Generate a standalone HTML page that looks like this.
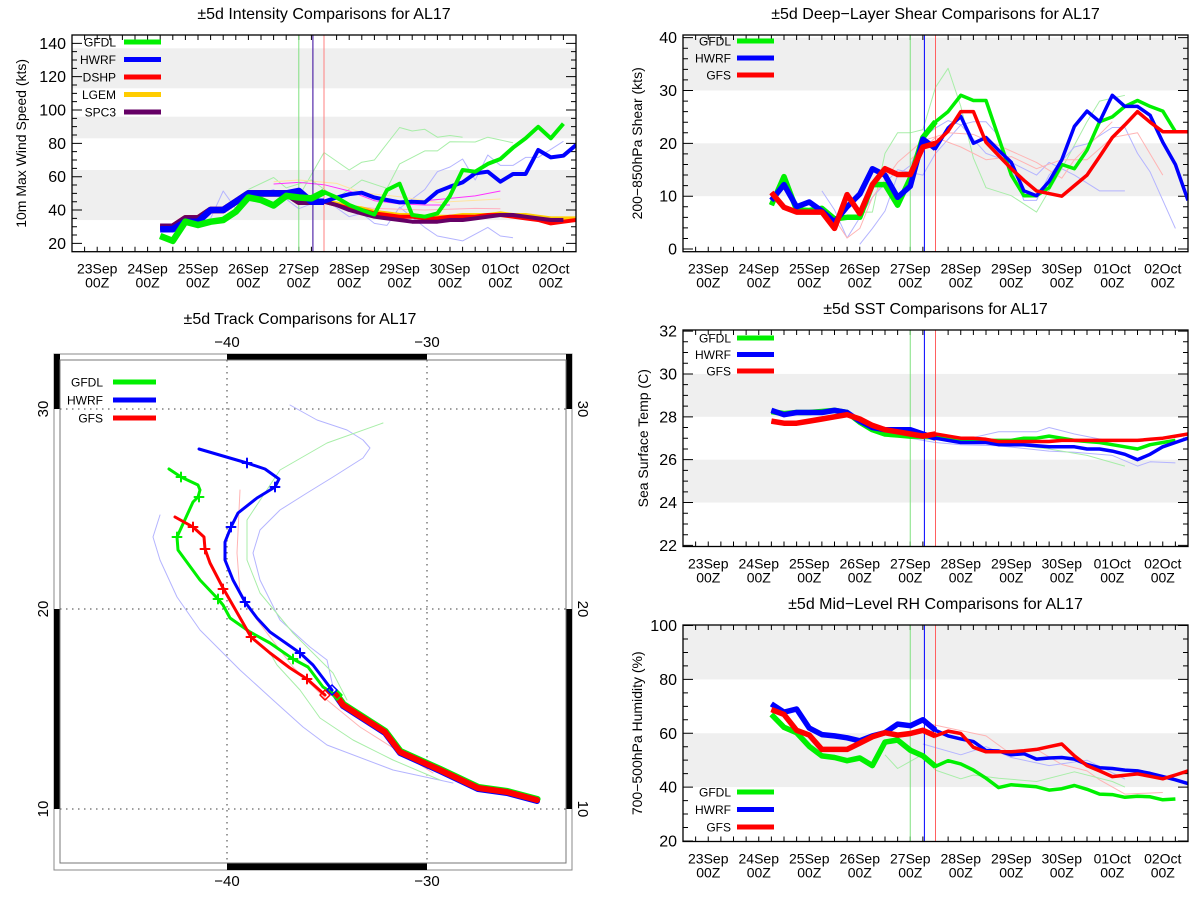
<!DOCTYPE html>
<html><head><meta charset="utf-8">
<style>
html,body{margin:0;padding:0;background:#fff;}
svg{display:block;font-family:"Liberation Sans",sans-serif;}
</style></head>
<body>
<svg id="chart" width="1200" height="900" viewBox="0 0 1200 900" xmlns="http://www.w3.org/2000/svg"></svg>
<script>
// ---------- shared time axis (days since 23Sep 00Z) ----------
const tDays = [1.25,1.5,1.75,2,2.25,2.5,2.75,3,3.25,3.5,3.75,4,4.25,4.5,4.75,5,5.25,5.5,5.75,6,6.25,6.5,6.75,7,7.25,7.5,7.75,8,8.25,8.5,8.75,9,9.25,9.5];
const dayLabels = ["23Sep","24Sep","25Sep","26Sep","27Sep","28Sep","29Sep","30Sep","01Oct","02Oct"];
const initDays = [4.0, 4.28, 4.5];

// ---------- intensity ----------
const intTicks = [20,40,60,80,100,120,140];
const intBands = [[34,64],[83,96],[113,137]];
const intGFDL = [24.4,21.5,33,31,33,34,39,47.5,46,42.7,48.5,47.5,47,50.8,47.5,43,40,37.3,52,55.8,37,36,38,48.5,64,63,67.7,70.6,77.4,83,89.9,83,91.8,null];
const intHWRF = [28.5,28.5,33,33,40,40,45,50,50,50,50,51.5,45,45,47.5,49.5,50.4,47.5,46,44.6,45,44.6,51,54,56.6,62,63,57,61.6,61.6,76,71.6,72.6,79];
const intDSHP = [30,30,35,35,40,40,45,50,50,50,50,45,45,45,43,41,40,38,37,36,36,35,35,36,36,36,37,37,36,35,34,32,33,34];
const intLGEM = [30,30,35,35,40,40,45,50,50,50,50,45,45,45,44,42,41,39,38,37,37,36,36,36,37,37,37,38,37,37,36,35,35,35];
const intSPC3 = [30,30,35,35,40,40,45,50,50,50,50,45,45,45,43,40,38,36,35,34,33,33,33,34,34,35,36,37,37,36,35,34,34,null];
const intThinGreenA_k = [11,13,15,16,17,19,20,21,22,23,24];
const intThinGreenA_v = [48,74.5,64,68.7,70,89.5,87.4,88.4,83.7,84.7,83.7];
const intThinGreenB_k = [7,9,10,12,14,16,18,19,21,22,23,25,26,28];
const intThinGreenB_v = [52.3,59.5,53.3,58,47,58,53,67.7,75.5,75.5,81,80.8,83.7,80.3];
const intThinBlueA_k = [4,5,6,7,9,11,13,15,16,17,18,19,21,22,24,26,27,28];
const intThinBlueA_v = [35,51.4,40.8,47.5,52.3,40.8,46.6,36,38,32,30.8,41.7,29.6,24.4,21.5,29.6,24.4,23.4];
const intThinBlueB_k = [19,21,22,23,24,25,26,27,28,29,30,32];
const intThinBlueB_v = [41,52.3,63,65.8,70.6,58,73,66.8,66.8,71.6,71.6,81.2];
const intThinMagA_k = [9,11,13,15,17,19,21,23];
const intThinMagA_v = [55.6,56.6,55.2,51.4,45.6,43.7,43,43];
const intThinMagB_k = [21,23,25,27];
const intThinMagB_v = [45.6,47,48.5,51.4];
const intThinOrange_k = [9,11,14,16,19,22,27];
const intThinOrange_v = [57,58,56,50.4,48,44.6,46.6];
const intThinPink_k = [13,17,21,25,27];
const intThinPink_v = [44,41,40,41,40.8];

// ---------- shear ----------
const shrTicks = [0,10,20,30,40];
const shrBands = [[10,20],[30,40]];
const shrGFDL = [8.3,13.7,7.4,7.3,7.7,5.7,6,6,12.2,12.2,8.3,13.4,21.1,24.1,26,29.1,28.1,28.1,21.1,14,10.1,10.1,11.6,16,15.2,18.7,24.1,25,27,28.1,27,26.1,22.2,null];
const shrHWRF = [9.2,12.2,8,8.9,7.2,5.1,8,10.4,15.2,14,9.8,11.9,20.8,19,22.9,25.1,20,21.1,18.7,16.4,11,10.1,12.8,16.9,23.2,26.1,24.1,29.1,27,27,25.3,20.2,16,9.2];
const shrGFS = [10.7,7.9,7,7,7,3.9,10.3,6.7,12.2,15.2,14.1,14.1,19.3,20,22.3,26,26,20.2,17.7,15.2,13,11,10.5,10,12,14,17.5,21.1,23.5,26,24,22.2,22.2,22.2];
const shrThinGreen_k = [7,8,9,10,11,12,13,14,15,16,17,19,21,23,25,26,28];
const shrThinGreen_v = [7,7,18.1,22,22,22.6,30.6,34.2,27,17.2,11.6,10.1,7,15.2,24.1,28,29.1];
const shrThinBlueA_k = [7,8,9,10,11,12,13,14,15,16,17,18,20,21,22,24,25,27,28,29,30,32];
const shrThinBlueA_v = [0.9,3.9,7.2,14,15.8,21.1,22.9,24.3,23.5,24.1,24.1,21.4,9.2,9.2,14,19.3,19.9,23,23,18.1,14.6,3.9];
const shrThinBlueB_k = [4,5,6,8,10,12,13,15,17,19,21,22,24,26,28];
const shrThinBlueB_v = [11,7.4,2.1,9.8,15,14,18.1,23.5,18.1,16.4,14,16.4,14,11,11];
const shrThinRedA_k = [5,6,7,8,10,12,14,16,18,21,23,24,27];
const shrThinRedA_v = [5.7,2.1,3.9,9.8,16.4,20.5,22,21.7,19.6,16.4,13.4,16.9,24.1];
const shrThinRedB_k = [11,13,15,17,19,21,23,25,27,29,31];
const shrThinRedB_v = [16.9,21.1,19.3,16.9,17.5,15.2,16.9,16.9,21.1,22,14];

// ---------- SST ----------
const sstTicks = [22,24,26,28,30,32];
const sstBands = [[24,26],[28,30]];
const sstGFDL = [28.25,28.15,28.2,28.2,28.25,28.3,28.2,27.75,27.4,27.2,27.15,27.1,27.1,27.1,27.0,26.9,26.9,26.9,26.9,26.9,27.0,27.0,27.1,27.0,26.9,26.85,26.8,26.7,26.6,26.5,26.7,26.8,26.9,null];
const sstHWRF = [28.3,28.1,28.2,28.2,28.2,28.3,28.2,27.8,27.5,27.4,27.4,27.4,27.2,27.0,26.9,26.8,26.8,26.8,26.7,26.7,26.7,26.65,26.6,26.6,26.6,26.5,26.5,26.4,26.25,26.0,26.25,26.6,26.8,27.0];
const sstGFS = [27.8,27.7,27.7,27.8,27.9,28.0,28.1,27.9,27.6,27.4,27.3,27.2,27.1,27.2,27.1,27.0,27.0,26.95,26.85,26.85,26.85,26.85,26.85,26.9,26.9,26.9,26.9,26.9,26.9,26.9,26.95,27.0,27.1,27.2];
const sstThinBlueA_k = [11,13,15,18,22,24,27,29,30,32];
const sstThinBlueA_v = [27.0,26.8,26.7,26.65,26.4,26.35,26.2,25.7,25.9,25.85];
const sstThinBlueB_k = [15,18,21,22,24,27];
const sstThinBlueB_v = [26.9,27.3,27.3,27.5,27.2,26.85];
const sstThinGreen_k = [11,15,19,22,25,28];
const sstThinGreen_v = [27.0,26.85,26.7,26.5,26.2,25.7];

// ---------- RH ----------
const rhTicks = [20,40,60,80,100];
const rhBands = [[40,60],[80,100]];
const rhGFDL = [67,62.2,60.2,55.1,51.6,51,49.8,50.8,48,56.7,57.5,53.7,51.6,47.7,49.8,48.6,46.3,43.3,39.8,40.9,40.5,40.1,38.9,39.4,40.6,39.2,37.4,37.2,36.2,36.6,36.4,35.3,35.6,null];
const rhHWRF = [70.9,67.8,69,61.9,59.5,59,58.3,57.2,59,60.2,63.4,62.8,65,61.1,59,57.9,56.9,53.6,53.4,52,52.4,50.4,50.8,51,50.4,48.4,47.2,46.9,46.3,46,45.1,43.9,42.7,41.3];
const rhGFS = [68.8,67,61.1,59.3,54,54,54,56.3,58.7,60.2,59.3,59.9,61.1,59,60.8,59.9,54.8,53.1,53.1,53.1,53.5,54,55,56,51.6,48,46,43.9,44.4,44.9,44,43.1,44.5,46];
const rhThinRed_k = [12,15,17,19,21,23,25,26,28,31];
const rhThinRed_v = [64,61,59,52.2,54,48.4,46,42.7,37.4,38];
const rhThinGreen_k = [9,10,12,13,15,16,18,21,24,27,28];
const rhThinGreen_v = [52,46.9,52.2,46.3,43.1,44.5,43.3,42.1,45.7,42.1,40];
const rhThinBlue_k = [12,15,17,19,22,25,28];
const rhThinBlue_v = [56,52,55,51,48,50,43];

// ---------- track (lon, lat) ----------
const trkLonTicks = [-40,-30];
const trkLatTicks = [10,20,30];
const trkCommonLon = [-24.5,-26.0,-27.45,-29.35,-31.35,-32.1,-34.2,-34.55];
const trkCommonLat = [10.45,10.85,11.05,11.95,12.85,13.85,15.2,15.7];
const trkGFDLLon = [-34.55,-35.2,-35.95,-36.7,-37.85,-38.85,-39.85,-40.2,-40.45,-41.35,-42.45,-42.5,-41.7,-41.45,-41.35,-41.45,-42.3,-42.9];
const trkGFDLLat = [15.7,16.1,17.1,17.5,18.3,18.85,19.55,20.2,20.5,21.45,22.95,23.6,25.35,25.6,25.95,26.2,26.6,27.0];
const trkHWRFLon = [-34.75,-35.7,-36.35,-37.85,-38.5,-39.1,-39.7,-40.1,-40.1,-39.8,-39.45,-38.5,-37.6,-37.4,-38.1,-39.0,-41.4];
const trkHWRFLat = [15.95,17.2,17.8,18.85,19.55,20.35,21.45,22.45,23.35,24.1,24.8,25.55,26.1,26.5,27.0,27.3,28.0];
const trkGFSLon = [-35.1,-36.0,-36.85,-37.85,-38.8,-40.2,-40.85,-41.1,-41.15,-41.7,-42.6];
const trkGFSLat = [15.7,16.5,17.05,17.8,18.6,21.05,22.3,23.0,23.6,24.1,24.6];
const trkGFDLMarkLon = [-42.3,-41.4,-42.5,-40.45,-36.7];
const trkGFDLMarkLat = [26.6,25.6,23.6,20.5,17.5];
const trkHWRFMarkLon = [-39.0,-37.6,-39.8,-39.1,-36.35];
const trkHWRFMarkLat = [27.3,26.1,24.1,20.35,17.8];
const trkGFSMarkLon = [-41.7,-41.1,-40.2,-38.8,-36.0];
const trkGFSMarkLat = [24.1,23.0,21.0,18.6,16.5];
const trkStartLon = [-34.5,-34.75,-35.1];
const trkStartLat = [15.7,15.95,15.7];
const trkThinBlueALon = [-28.7,-31.7,-35.0,-36.2,-37.7,-39.35,-41.35,-42.5,-43.35,-43.7,-43.35];
const trkThinBlueALat = [11.3,11.95,13.2,14.1,15.45,16.95,18.95,20.6,22.45,23.6,24.7];
const trkThinBlueBLon = [-34.7,-35.0,-35.85,-37.35,-38.35,-38.7,-38.35,-37.35,-36.0,-34.7,-33.2,-32.85,-33.2,-34.0,-35.5,-36.85];
const trkThinBlueBLat = [16.1,17.45,18.1,19.45,21.45,22.8,23.95,24.95,25.8,26.6,27.55,28.05,28.45,28.95,29.45,30.2];
const trkThinGreenALon = [-34.0,-34.7,-36.7,-38.35,-39.0,-39.0,-37.35,-35.0,-32.2];
const trkThinGreenALat = [15.45,16.8,18.8,20.8,22.45,24.45,26.95,28.3,29.3];
const trkThinGreenBLon = [-29.35,-31.7,-33.7,-35.35,-36.35,-37.5,-37.85];
const trkThinGreenBLat = [11.45,12.45,13.45,14.55,15.95,17.2,17.8];
const trkThinRedLon = [-29.7,-33.35,-35.0,-36.7,-38.5,-39.35,-39.5,-39.35];
const trkThinRedLat = [11.8,14.1,15.45,17.1,19.45,20.8,22.8,25.95];

// =============== drawing ===============
const NS = 'http://www.w3.org/2000/svg';
const svg = document.getElementById('chart');
function mk(tag, attrs, parent){
  const e = document.createElementNS(NS, tag);
  for (const k in attrs) e.setAttribute(k, attrs[k]);
  (parent || svg).appendChild(e);
  return e;
}
function txt(x, y, s, size, anchor, parent, extra){
  const e = mk('text', Object.assign({x:x, y:y, 'font-size':size, 'text-anchor':anchor||'middle', fill:'#000'}, extra||{}), parent);
  e.textContent = s;
  return e;
}

const C = {green:'#00f000', blue:'#0000ff', red:'#ff0000', orange:'#ffcc00', purple:'#660066',
  lgreen:'#a8eea8', lblue:'#b4b4ff', lred:'#ffb4b4', mag:'#ff33ff', lorange:'#ffe4a0', pink:'#ffb0c0'};

function X(p, d){ return p.L + (d + 0.5) / 10 * (p.R - p.L); }
function Y(p, v){ return p.B - (v - p.ymin) / (p.ymax - p.ymin) * (p.B - p.T); }

function seriesPath(p, vals, maxDay){
  let d = '', pen = false;
  for (let i = 0; i < tDays.length; i++){
    const v = vals[i];
    if (v === null || v === undefined || (maxDay !== undefined && tDays[i] > maxDay)) { pen = false; continue; }
    d += (pen ? 'L' : 'M') + X(p, tDays[i]).toFixed(1) + ' ' + Y(p, v).toFixed(1);
    pen = true;
  }
  return d;
}
function thinPath(p, ks, vs){
  let d = '';
  for (let i = 0; i < ks.length; i++) d += (i ? 'L' : 'M') + X(p, tDays[ks[i]]).toFixed(1) + ' ' + Y(p, vs[i]).toFixed(1);
  return d;
}

function drawPanel(p){
  const g = mk('g', {});
  
  
  const cid = p.name + '-clip';
  const cp = mk('clipPath', {id: cid}, g);
  mk('rect', {x:p.L, y:p.T, width:p.R-p.L, height:p.B-p.T}, cp);
  p.bands.forEach(b => {
    const r = mk('rect', {x:p.L, y:Y(p, b[1]), width:p.R-p.L, height:Y(p, b[0]) - Y(p, b[1]), fill:'#efefef', 'clip-path':'url(#'+cid+')'}, g);
    
    
  });
  const t = txt((p.L + p.R) / 2, p.T - 16, p.title, 16, 'middle', g);
  
  
  const yc = (p.T + p.B) / 2;
  const yt = txt(p.ytX, yc, p.ytitle, 14, 'middle', g, {transform:'rotate(-90 ' + p.ytX + ' ' + yc + ')'});
  
  
  for (let v = p.ticks[0]; v <= p.ticks[p.ticks.length - 1] + 1e-6; v += p.minor){
    const yy = Y(p, v);
    const major = p.ticks.some(tk => Math.abs(tk - v) < 1e-6);
    const len = major ? 10 : 5;
    const tk = mk('path', {d:'M'+p.L+' '+yy+'h'+len+'M'+p.R+' '+yy+'h-'+len, stroke:'#000', 'stroke-width':1}, g);
    
    
  }
  p.ticks.forEach(v => {
    const l = txt(p.L - 6, Y(p, v) + 5.5, String(v), 16, 'end', g);
    
    
  });
  for (let q = -0.5; q <= 9.5 + 1e-6; q += 0.25){
    const xx = X(p, q);
    const tk = mk('path', {d:'M'+xx+' '+p.B+'v-5M'+xx+' '+p.T+'v5', stroke:'#000', 'stroke-width':1}, g);
    
    
  }
  dayLabels.forEach((s, i) => {
    const l1 = txt(X(p, i), p.B + 22, s, 14, 'middle', g);
    
    
    const l2 = txt(X(p, i), p.B + 36, '00Z', 14, 'middle', g);
    
    
  });
  const dg = mk('g', {'clip-path':'url(#'+cid+')', fill:'none', 'stroke-linejoin':'round'}, g);
  
  
  p.thin.forEach(th => {
    const e = mk('path', {d:thinPath(p, th[0], th[1]), stroke:th[2], 'stroke-width':1}, dg);
    
    
  });
  initDays.forEach((d0, i) => {
    const e = mk('path', {d:'M'+X(p, d0)+' '+p.T+'V'+p.B, stroke:p.vcols[i], 'stroke-width':1}, dg);
    
    
  });
  p.series.forEach(s => {
    const e = mk('path', {d:seriesPath(p, s.v), stroke:s.c, 'stroke-width':p.w}, dg);
    
    
    const e2 = mk('path', {d:seriesPath(p, s.v, 4.5), stroke:s.c, 'stroke-width':p.w2}, dg);
    
    
  });
  const fr = mk('rect', {x:p.L, y:p.T, width:p.R-p.L, height:p.B-p.T, fill:'none', stroke:'#000', 'stroke-width':1.3}, g);
  
  
  p.legend.forEach((it, i) => {
    const yy = p.legY + i * p.legDy;
    const lt = txt(p.legTX, yy + 4.5, it[0], 12, 'end', g);
    
    
    const ll = mk('path', {d:'M'+p.legLX+' '+yy+'h37', stroke:it[1], 'stroke-width':5}, g);
    
    
  });
}

const P1 = {name:'intensity-panel', L:72, R:576, T:35, B:251.7, ymin:15, ymax:145, ticks:intTicks, minor:5, bands:intBands,
  title:'\u00b15d Intensity Comparisons for AL17', ytitle:'10m Max Wind Speed (kts)', ytX:26, w:4, w2:6.5,
  vcols:['#80e080','#330099','#ff8080'],
  thin:[[intThinGreenA_k,intThinGreenA_v,C.lgreen],[intThinGreenB_k,intThinGreenB_v,C.lgreen],[intThinBlueA_k,intThinBlueA_v,C.lblue],[intThinBlueB_k,intThinBlueB_v,C.lblue],[intThinOrange_k,intThinOrange_v,C.lorange],[intThinPink_k,intThinPink_v,C.pink],[intThinMagA_k,intThinMagA_v,C.mag],[intThinMagB_k,intThinMagB_v,C.mag]],
  series:[{n:'lgem',v:intLGEM,c:C.orange},{n:'dshp',v:intDSHP,c:C.red},{n:'spc3',v:intSPC3,c:C.purple},{n:'hwrf',v:intHWRF,c:C.blue},{n:'gfdl',v:intGFDL,c:C.green}],
  legend:[['GFDL',C.green],['HWRF',C.blue],['DSHP',C.red],['LGEM',C.orange],['SPC3',C.purple]], legY:42, legDy:17.5, legTX:116, legLX:124};
const P2 = {name:'shear-panel', L:683, R:1188, T:35, B:251.7, ymin:-0.5, ymax:40.5, ticks:shrTicks, minor:2, bands:shrBands,
  title:'\u00b15d Deep\u2212Layer Shear Comparisons for AL17', ytitle:'200\u2212850hPa Shear (kts)', ytX:642, w:3.5, w2:5.5,
  vcols:['#80e080','#0000ff','#ff6060'],
  thin:[[shrThinGreen_k,shrThinGreen_v,C.lgreen],[shrThinBlueA_k,shrThinBlueA_v,C.lblue],[shrThinBlueB_k,shrThinBlueB_v,C.lblue],[shrThinRedA_k,shrThinRedA_v,C.lred],[shrThinRedB_k,shrThinRedB_v,C.lred]],
  series:[{n:'gfdl',v:shrGFDL,c:C.green},{n:'hwrf',v:shrHWRF,c:C.blue},{n:'gfs',v:shrGFS,c:C.red}],
  legend:[['GFDL',C.green],['HWRF',C.blue],['GFS',C.red]], legY:41, legDy:17, legTX:731, legLX:737};
const P3 = {name:'sst-panel', L:683, R:1188, T:330, B:546.5, ymin:21.95, ymax:32.05, ticks:sstTicks, minor:0.5, bands:sstBands,
  title:'\u00b15d SST Comparisons for AL17', ytitle:'Sea Surface Temp (C)', ytX:648, w:3.5, w2:5.5,
  vcols:['#80e080','#0000ff','#ff6060'],
  thin:[[sstThinBlueA_k,sstThinBlueA_v,C.lblue],[sstThinBlueB_k,sstThinBlueB_v,C.lblue],[sstThinGreen_k,sstThinGreen_v,C.lgreen]],
  series:[{n:'gfdl',v:sstGFDL,c:C.green},{n:'hwrf',v:sstHWRF,c:C.blue},{n:'gfs',v:sstGFS,c:C.red}],
  legend:[['GFDL',C.green],['HWRF',C.blue],['GFS',C.red]], legY:338, legDy:16.5, legTX:731, legLX:737};
const P4 = {name:'rh-panel', L:683, R:1188, T:625, B:841.5, ymin:19.8, ymax:100.2, ticks:rhTicks, minor:5, bands:rhBands,
  title:'\u00b15d Mid\u2212Level RH Comparisons for AL17', ytitle:'700\u2212500hPa Humidity (%)', ytX:642, w:3.5, w2:5.5,
  vcols:['#80e080','#0000ff','#ff6060'],
  thin:[[rhThinRed_k,rhThinRed_v,C.lred],[rhThinGreen_k,rhThinGreen_v,C.lgreen],[rhThinBlue_k,rhThinBlue_v,C.lblue]],
  series:[{n:'gfdl',v:rhGFDL,c:C.green},{n:'hwrf',v:rhHWRF,c:C.blue},{n:'gfs',v:rhGFS,c:C.red}],
  legend:[['GFDL',C.green],['HWRF',C.blue],['GFS',C.red]], legY:792, legDy:17.5, legTX:731, legLX:737};
[P1, P2, P3, P4].forEach(drawPanel);

// ---------- track map ----------
const TM = {oL:54, oR:572, oT:354, oB:870, iL:60, iR:566, iT:360, iB:863};
function LX(lon){ return 227 + (lon + 40) * 20; }
function LY(lat){ return 809 - (lat - 10) * 20; }
function trkPath(lons, lats){
  let d = '';
  for (let i = 0; i < lons.length; i++) d += (i ? 'L' : 'M') + LX(lons[i]).toFixed(1) + ' ' + LY(lats[i]).toFixed(1);
  return d;
}
const tg = mk('g', {});


const tt = txt(300, 324, '\u00b15d Track Comparisons for AL17', 16, 'middle', tg);


const outer = mk('rect', {x:TM.oL, y:TM.oT, width:TM.oR-TM.oL, height:TM.oB-TM.oT, fill:'none', stroke:'#888', 'stroke-width':1}, tg);


const barDefs = [
  [LX(-40), TM.oT, LX(-30) - LX(-40), TM.iT - TM.oT],
  [LX(-40), TM.iB, LX(-30) - LX(-40), TM.oB - TM.iB],
  [TM.oL, TM.oT, TM.iL - TM.oL, LY(30) - TM.oT],
  [TM.oL, LY(20), TM.iL - TM.oL, LY(10) - LY(20)],
  [TM.iR, TM.oT, TM.oR - TM.iR, LY(30) - TM.oT],
  [TM.iR, LY(20), TM.oR - TM.iR, LY(10) - LY(20)]
];
barDefs.forEach(b => {
  const r = mk('rect', {x:b[0], y:b[1], width:b[2], height:b[3], fill:'#000'}, tg);
  
  
});
const inner = mk('rect', {x:TM.iL, y:TM.iT, width:TM.iR-TM.iL, height:TM.iB-TM.iT, fill:'none', stroke:'#777', 'stroke-width':1}, tg);


trkLonTicks.forEach(lon => {
  const gl = mk('path', {d:'M'+LX(lon)+' '+TM.iT+'V'+TM.iB, stroke:'#666', 'stroke-width':1.3, 'stroke-dasharray':'1.5 4.5'}, tg);
  
  
  const a = txt(LX(lon), TM.oT - 7, '\u2212' + Math.abs(lon), 15, 'middle', tg);
  
  
  const b = txt(LX(lon), TM.oB + 16, '\u2212' + Math.abs(lon), 15, 'middle', tg);
  
  
});
trkLatTicks.forEach(lat => {
  const gl = mk('path', {d:'M'+TM.iL+' '+LY(lat)+'H'+TM.iR, stroke:'#666', 'stroke-width':1.3, 'stroke-dasharray':'1.5 4.5'}, tg);
  
  
  const a = txt(48, LY(lat), String(lat), 15, 'middle', tg, {transform:'rotate(-90 48 ' + LY(lat) + ')'});
  
  
  const b = txt(578, LY(lat), String(lat), 15, 'middle', tg, {transform:'rotate(90 578 ' + LY(lat) + ')'});
  
  
});
const tcp = mk('clipPath', {id:'trk-clip'}, tg);
mk('rect', {x:TM.iL, y:TM.iT, width:TM.iR-TM.iL, height:TM.iB-TM.iT}, tcp);
const td = mk('g', {'clip-path':'url(#trk-clip)', fill:'none', 'stroke-linejoin':'round', 'stroke-linecap':'round'}, tg);


[[trkThinBlueALon,trkThinBlueALat,C.lblue],[trkThinBlueBLon,trkThinBlueBLat,C.lblue],[trkThinGreenALon,trkThinGreenALat,C.lgreen],[trkThinGreenBLon,trkThinGreenBLat,C.lgreen],[trkThinRedLon,trkThinRedLat,C.lred]].forEach(t => {
  const e = mk('path', {d:trkPath(t[0], t[1]), stroke:t[2], 'stroke-width':1}, td);
  
  
});
[['gfdl',trkGFDLLon,trkGFDLLat,C.green],['hwrf',trkHWRFLon,trkHWRFLat,C.blue],['gfs',trkGFSLon,trkGFSLat,C.red]].forEach(t => {
  const e = mk('path', {d:trkPath(t[1], t[2]), stroke:t[3], 'stroke-width':3}, td);
  
  
});
[['gfdl',C.green,0.6,1],['hwrf',C.blue,0,-1],['gfs',C.red,0,0]].forEach(t => {
  const lons = trkCommonLon.map(v => v + t[2] / 20);
  const lats = trkCommonLat.map(v => v + t[3] / 20);
  const e = mk('path', {d:trkPath(lons, lats), stroke:t[1], 'stroke-width':6}, td);
  
  
});
[[trkGFDLMarkLon,trkGFDLMarkLat,C.green],[trkHWRFMarkLon,trkHWRFMarkLat,C.blue],[trkGFSMarkLon,trkGFSMarkLat,C.red]].forEach(m => {
  for (let i = 0; i < m[0].length; i++){
    const x = LX(m[0][i]), y = LY(m[1][i]);
    const e = mk('path', {d:'M'+(x-4.5)+' '+y+'h9M'+x+' '+(y-4.5)+'v9', stroke:m[2], 'stroke-width':2}, td);
    
    
  }
});
[C.green, C.blue, C.red].forEach((c, i) => {
  const x = LX(trkStartLon[i]), y = LY(trkStartLat[i]);
  const e = mk('path', {d:'M'+x+' '+(y-5)+'L'+(x+5)+' '+y+'L'+x+' '+(y+5)+'L'+(x-5)+' '+y+'Z', stroke:c, 'stroke-width':1.5}, td);
  
  
});
[['GFDL',C.green],['HWRF',C.blue],['GFS',C.red]].forEach((it, i) => {
  const yy = 382 + i * 18;
  const lt = txt(103, yy + 4.5, it[0], 12, 'end', tg);
  
  
  const ll = mk('path', {d:'M113 '+yy+'h43', stroke:it[1], 'stroke-width':5}, tg);
  
  
});
</script>
</body></html>
